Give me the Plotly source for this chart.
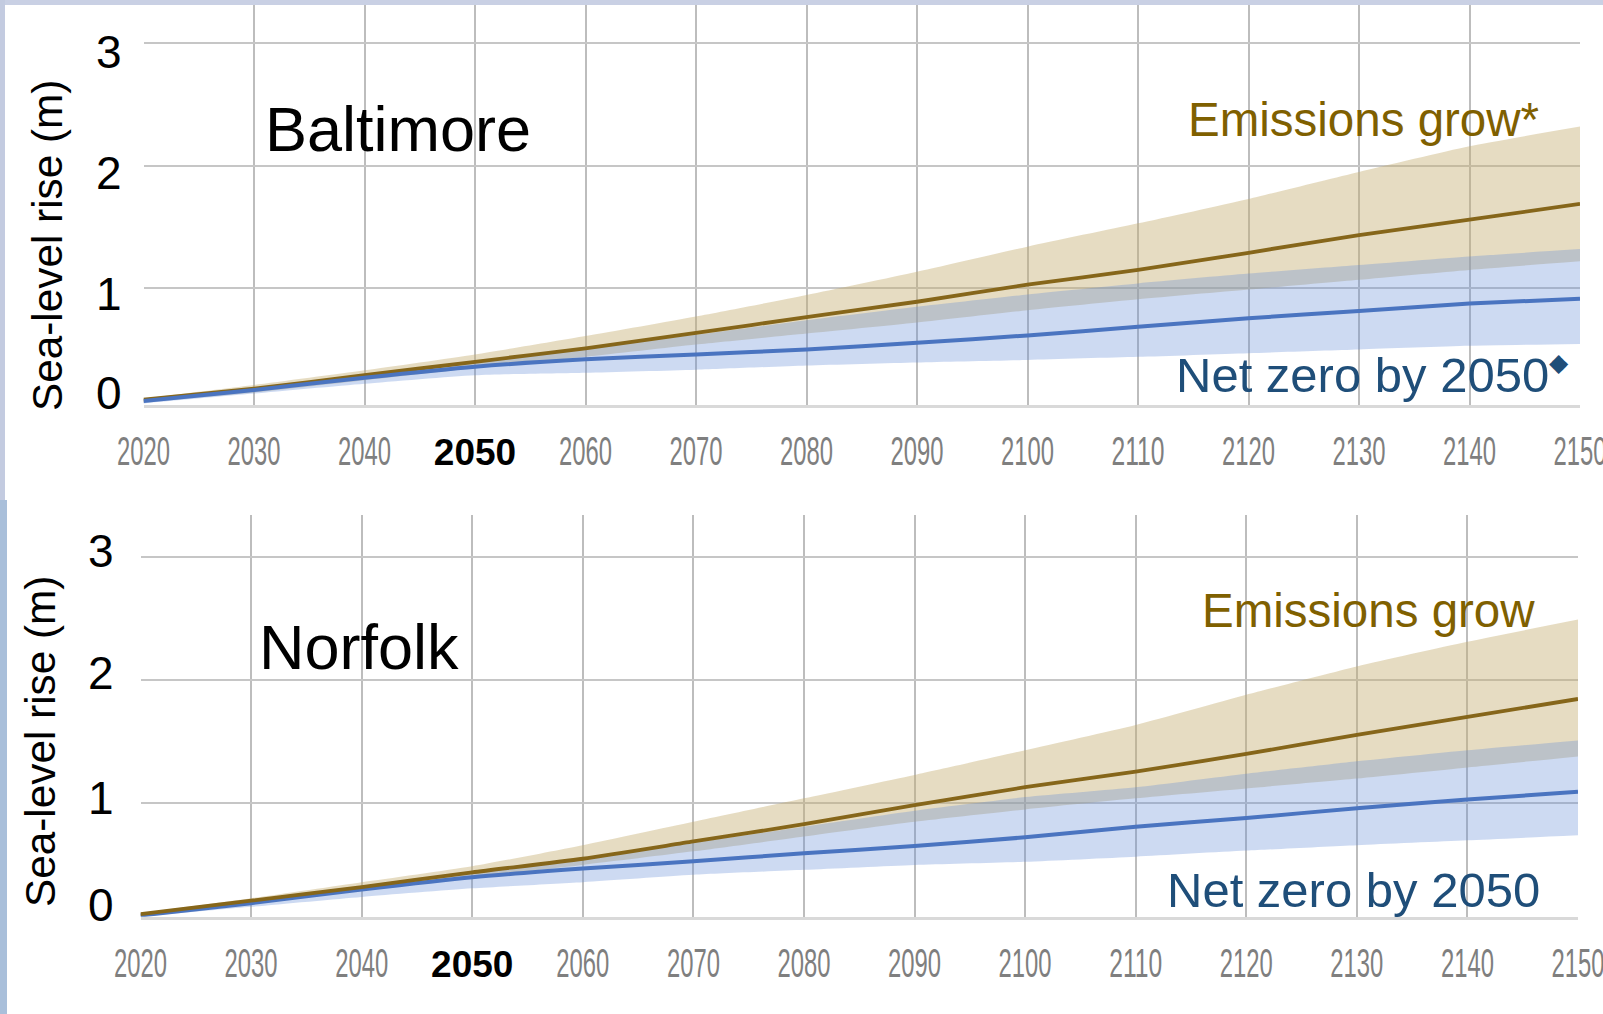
import plotly.graph_objects as go

# ---- canvas -------------------------------------------------------------
W, H = 1603, 1014

# ---- data: projected sea-level rise (m) ----------------------------------
years = [2020, 2030, 2040, 2050, 2060, 2070, 2080, 2090, 2100, 2110, 2120, 2130, 2140, 2150]

# Baltimore
balt_grow_mid = [0.09, 0.18, 0.29, 0.40, 0.51, 0.635, 0.765, 0.89, 1.03, 1.15, 1.29, 1.435, 1.56, 1.69]
balt_grow_hi = [0.10, 0.21, 0.33, 0.46, 0.61, 0.77, 0.945, 1.135, 1.34, 1.53, 1.73, 1.95, 2.16, 2.32]
balt_grow_lo = [0.07, 0.15, 0.25, 0.35, 0.44, 0.54, 0.63, 0.72, 0.82, 0.91, 0.99, 1.07, 1.15, 1.22]
balt_nz_mid = [0.08, 0.17, 0.27, 0.36, 0.42, 0.46, 0.50, 0.555, 0.615, 0.685, 0.755, 0.815, 0.875, 0.915]
balt_nz_hi = [0.09, 0.19, 0.30, 0.41, 0.51, 0.62, 0.74, 0.85, 0.95, 1.04, 1.12, 1.19, 1.26, 1.32]
balt_nz_lo = [0.06, 0.14, 0.22, 0.29, 0.31, 0.335, 0.37, 0.395, 0.415, 0.44, 0.47, 0.50, 0.53, 0.545]

# Norfolk
norf_grow_mid = [0.10, 0.21, 0.32, 0.44, 0.55, 0.69, 0.83, 0.985, 1.13, 1.256, 1.40, 1.554, 1.70, 1.846]
norf_grow_hi = [0.11, 0.23, 0.36, 0.49, 0.66, 0.85, 1.04, 1.23, 1.43, 1.635, 1.88, 2.11, 2.31, 2.49]
norf_grow_lo = [0.09, 0.19, 0.29, 0.40, 0.50, 0.61, 0.73, 0.85, 0.95, 1.04, 1.12, 1.20, 1.29, 1.38]
norf_nz_mid = [0.09, 0.19, 0.30, 0.40, 0.47, 0.53, 0.594, 0.654, 0.724, 0.81, 0.88, 0.96, 1.03, 1.094]
norf_nz_hi = [0.10, 0.21, 0.33, 0.45, 0.56, 0.68, 0.81, 0.94, 1.05, 1.13, 1.24, 1.34, 1.43, 1.51]
norf_nz_lo = [0.08, 0.16, 0.24, 0.31, 0.36, 0.42, 0.46, 0.50, 0.526, 0.567, 0.616, 0.66, 0.70, 0.74]

# ---- axis labels --------------------------------------------------------
x_tickvals = list(range(2020, 2151, 10))
x_highlight = 2050
y_gridvals = [1, 2, 3]
y_ticklabels = ["0", "1", "2", "3"]
y_title = "Sea-level rise (m)"
grow_label = "Emissions grow"
nz_label = "Net zero by 2050"

# ---- styling ------------------------------------------------------------
SANS = "Arial, Liberation Sans, sans-serif"
GROW_FILL = "rgba(196,172,110,0.42)"
NZ_FILL = "rgba(100,140,215,0.32)"
GROW_LINE = "#86661A"
NZ_LINE = "#4A74C0"
GROW_TEXT = "#7F6000"
NZ_TEXT = "#1F4E79"

# year ticks: grey narrow labels, the net-zero target year in bold black
x_ticktext = [
    ("<span style='font-size:37px;color:#000000'><b>%d</b></span>" % v) if v == x_highlight else str(v)
    for v in x_tickvals
]


def px(x):
    return x / W


def py(y):
    return 1 - y / H


fig = go.Figure()


def add_panel(xa, ya, mid_g, hi_g, lo_g, mid_n, hi_n, lo_n, grow_line_on_top):
    common = dict(xaxis=xa, yaxis=ya, mode="lines", hoverinfo="skip", showlegend=False)
    shape = dict(shape="spline", smoothing=0.6)
    # emissions-grow likely range
    fig.add_trace(go.Scatter(x=years, y=lo_g, line=dict(width=0, **shape), **common))
    fig.add_trace(go.Scatter(x=years, y=hi_g, line=dict(width=0, **shape),
                             fill="tonexty", fillcolor=GROW_FILL, **common))
    # net-zero likely range
    fig.add_trace(go.Scatter(x=years, y=lo_n, line=dict(width=0, **shape), **common))
    fig.add_trace(go.Scatter(x=years, y=hi_n, line=dict(width=0, **shape),
                             fill="tonexty", fillcolor=NZ_FILL, **common))
    grow = go.Scatter(x=years, y=mid_g, line=dict(color=GROW_LINE, width=3.8, **shape), **common)
    nz = go.Scatter(x=years, y=mid_n, line=dict(color=NZ_LINE, width=4, **shape), **common)
    if grow_line_on_top:
        fig.add_trace(nz)
        fig.add_trace(grow)
    else:
        fig.add_trace(grow)
        fig.add_trace(nz)


add_panel("x", "y", balt_grow_mid, balt_grow_hi, balt_grow_lo,
          balt_nz_mid, balt_nz_hi, balt_nz_lo, grow_line_on_top=False)
add_panel("x2", "y2", norf_grow_mid, norf_grow_hi, norf_grow_lo,
          norf_nz_mid, norf_nz_hi, norf_nz_lo, grow_line_on_top=True)

xaxis_style = dict(
    range=[x_tickvals[0], x_tickvals[-1]],
    tickmode="array", tickvals=x_tickvals, ticktext=x_ticktext,
    showgrid=True, gridcolor="#BDBDBD", gridwidth=1.5,
    showline=True, linecolor="#D9D9D9", linewidth=3,
    zeroline=False, ticks="", ticklabelstandoff=9, automargin=False,
    ticklabeloverflow="allow",
    tickfont=dict(family=SANS, size=40, color="#7F7F7F"),
    fixedrange=True,
)
yaxis_style = dict(
    tickmode="array", tickvals=y_gridvals, showticklabels=False,
    showgrid=True, gridcolor="#C6C6C6", gridwidth=2, automargin=False,
    showline=False, zeroline=False, ticks="", fixedrange=True,
)

# panel frames in pixels: (left, right, top, bottom) and value range of the y axis
top_panel = dict(left=143.5, right=1580, top=5, bottom=405, yr=[0.047, 3.313])
bot_panel = dict(left=140.5, right=1578, top=515, bottom=916.7, yr=[0.080, 3.338])

fig.update_layout(
    template="none",
    width=W, height=H, autosize=False,
    margin=dict(l=0, r=0, t=0, b=0, pad=0),
    paper_bgcolor="white", plot_bgcolor="white",
    showlegend=False,
    xaxis=dict(domain=[px(top_panel["left"]), px(top_panel["right"])], anchor="y", **xaxis_style),
    yaxis=dict(domain=[py(top_panel["bottom"]), py(top_panel["top"])], range=top_panel["yr"],
               anchor="x", **yaxis_style),
    xaxis2=dict(domain=[px(bot_panel["left"]), px(bot_panel["right"])], anchor="y2", **xaxis_style),
    yaxis2=dict(domain=[py(bot_panel["bottom"]), py(bot_panel["top"])], range=bot_panel["yr"],
                anchor="x2", **yaxis_style),
)

# slide background peeking around the chart
fig.add_shape(type="rect", xref="paper", yref="paper", x0=0, x1=1, y0=py(5), y1=1,
              fillcolor="#C9D0E4", line_width=0, layer="below")
fig.add_shape(type="rect", xref="paper", yref="paper", x0=0, x1=px(5), y0=py(500), y1=1,
              fillcolor="#C3CBE0", line_width=0, layer="below")
fig.add_shape(type="rect", xref="paper", yref="paper", x0=0, x1=px(7), y0=0, y1=py(500),
              fillcolor="#A9BFDA", line_width=0, layer="below")

ann = []


def text(x, y, s, size, color="black", xanchor="center", angle=0):
    ann.append(dict(x=px(x), y=py(y), xref="paper", yref="paper",
                    text=s, showarrow=False, xanchor=xanchor, yanchor="middle",
                    textangle=angle,
                    font=dict(family=SANS, size=size, color=color)))


# city names
text(263, 129, "Baltimore", 63, xanchor="left")
text(257, 647, "Norfolk", 63, xanchor="left")

# scenario labels
text(1541, 120, grow_label + "*", 47.5, GROW_TEXT, xanchor="right")
text(1571, 375, nz_label + "<sup><span style='font-size:25px'>◆</span></sup>", 49, NZ_TEXT,
     xanchor="right")
text(1537, 610, grow_label, 47.5, GROW_TEXT, xanchor="right")
text(1542, 890, nz_label, 49, NZ_TEXT, xanchor="right")

# y-axis titles
text(47, 246, y_title, 42.3, angle=-90)
text(40, 742, y_title, 42.3, angle=-90)

# y tick labels
for lab, yy in zip(y_ticklabels, [393.3, 294, 173.3, 51.7]):
    text(108.5, yy, lab, 46)
for lab, yy in zip(y_ticklabels, [905, 797.5, 672.5, 550.7]):
    text(101.5, yy, lab, 46)

fig.update_layout(annotations=ann)

# year labels are set in a tall, narrow face: compress each grey label horizontally
squeeze_js = """
var gd = document.getElementById('{plot_id}');
function squeezeYears() {
  gd.querySelectorAll('.xtick text, .x2tick text').forEach(function (t) {
    var s = t.textContent.trim();
    if (s.length && s !== '%d') {
      t.setAttribute('textLength', '53');
      t.setAttribute('lengthAdjust', 'spacingAndGlyphs');
    }
  });
}
squeezeYears();
gd.on('plotly_afterplot', squeezeYears);
""" % x_highlight

fig.write_html("out.html", post_script=squeeze_js, config={"displayModeBar": False})
